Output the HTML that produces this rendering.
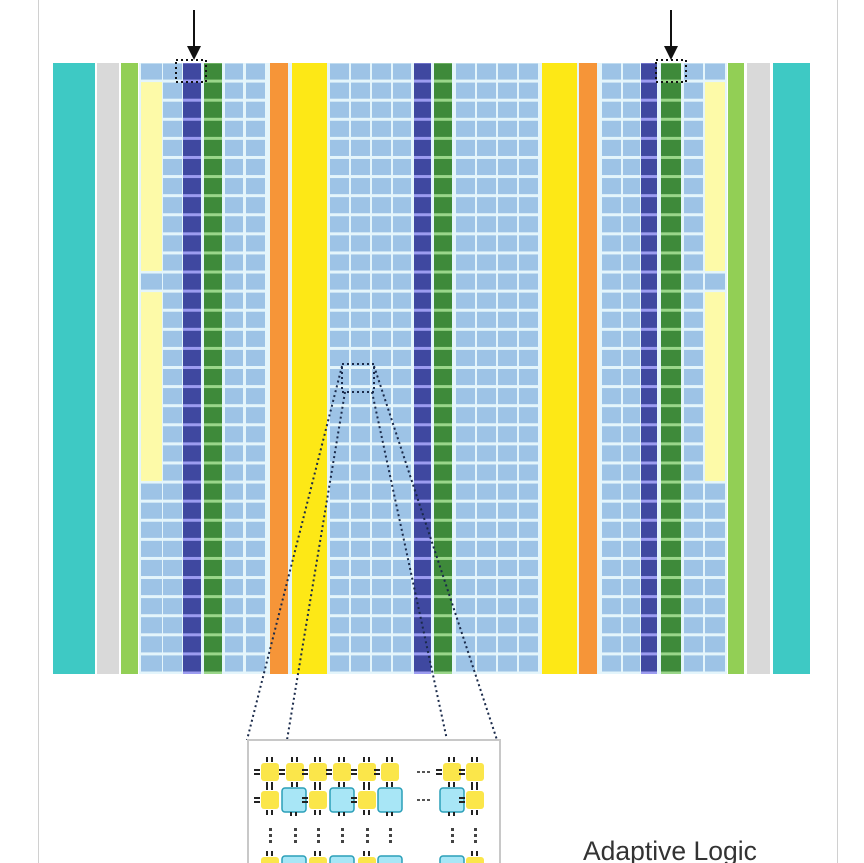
<!DOCTYPE html>
<html><head><meta charset="utf-8"><style>
html,body{margin:0;padding:0;background:#fff;width:864px;height:863px;overflow:hidden}
svg{display:block}
</style></head><body>
<svg id="s" width="864" height="863" viewBox="0 0 864 863" xmlns="http://www.w3.org/2000/svg">
<rect x="0" y="0" width="864" height="863" fill="#fff"/>
<line x1="38.5" y1="0" x2="38.5" y2="863" stroke="#d0d0d0" stroke-width="1"/>
<line x1="837.5" y1="0" x2="837.5" y2="863" stroke="#d0d0d0" stroke-width="1"/>
<g id="grid"></g>
<line x1="194" y1="10" x2="194" y2="50" stroke="#111" stroke-width="2"/>
<polygon points="187,46 201,46 194,60" fill="#111"/>
<line x1="671" y1="10" x2="671" y2="50" stroke="#111" stroke-width="2"/>
<polygon points="664,46 678,46 671,60" fill="#111"/>
<rect x="176" y="60" width="30" height="22" fill="none" stroke="#111" stroke-width="2" stroke-dasharray="2,3"/>
<rect x="656" y="60" width="30" height="22" fill="none" stroke="#111" stroke-width="2" stroke-dasharray="2,3"/>
<rect x="342" y="364" width="32" height="28" fill="none" stroke="#1a2a4a" stroke-width="2" stroke-dasharray="2,3"/>
<g stroke="#1a2a4a" stroke-width="2" stroke-dasharray="2,3" fill="none">
<line x1="342" y1="366" x2="247" y2="740"/>
<line x1="345" y1="392" x2="287" y2="740"/>
<line x1="372" y1="392" x2="447" y2="740"/>
<line x1="374" y1="366" x2="497" y2="740"/>
</g>
<rect x="248" y="740" width="252" height="130" fill="#fff" stroke="#c8c8c8" stroke-width="2"/>
<g id="inset"></g>
<text x="583" y="860" font-family="Liberation Sans, sans-serif" font-size="26.5" fill="#333">Adaptive Logic</text>
</svg>
<script>
var NS="http://www.w3.org/2000/svg";
function R(g,x,y,w,h,f){var r=document.createElementNS(NS,"rect");r.setAttribute("x",x);r.setAttribute("y",y);r.setAttribute("width",w);r.setAttribute("height",h);r.setAttribute("fill",f);g.appendChild(r);return r;}
var g=document.getElementById("grid");
var T=63,B=674,N=32,P=(B-T)/N;
R(g,139,T,588,B-T,"#e4f5fb");
R(g,53,T,42,B-T,"#3ec9c4");
R(g,97,T,22,B-T,"#d9d9d9");
R(g,121,T,17,B-T,"#92cf55");
R(g,728,T,16,B-T,"#92cf55");
R(g,747,T,23,B-T,"#d9d9d9");
R(g,773,T,37,B-T,"#3ec9c4");
var cols=[[141,21,"p"],[163,19,"c"],[183,18,"d"],[204,18,"g"],[225,18,"c"],[246,19,"c"],
[270,18,"o"],[292,35,"y"],[330,19,"c"],[351,19,"c"],[372,19,"c"],[393,18,"c"],
[414,17,"d"],[434,18,"g"],[456,19,"c"],[477,19,"c"],[498,19,"c"],[519,19,"c"],
[542,35,"y"],[579,18,"o"],[602,19,"c"],[623,17,"c"],[641,16,"d"],[661,20,"g"],[684,19,"c"],[705,20,"p"]];
cols.forEach(function(c){
 var x=c[0],w=c[1],t=c[2];
 if(t=="o"){R(g,x,T,w,B-T,"#f69538");return;}
 if(t=="y"){R(g,x,T,w,B-T,"#fde816");return;}
 if(t=="d"){R(g,x,T,w,B-T,"#9c9cf0");}
 if(t=="g"){R(g,x,T,w,B-T,"#9ad68a");}
 for(var i=0;i<N;i++){
  var y=T+i*P;
  var col=t=="d"?"#3f48a0":t=="g"?"#3e8a3a":"#9dc3e6";
  if(t=="p"&&((i>=1&&i<=10)||(i>=12&&i<=21)))continue;
  R(g,x,y+0.5,w,P-3,col);
 }
 if(t=="p"){R(g,x,T+P,w,10*P-2,"#fdfaa8");R(g,x,T+12*P,w,10*P-2,"#fdfaa8");}
});
var ins=document.getElementById("inset");
function pins(x,y,s){
 var h=s/2;
 R(ins,x-4,y-h-6,2,5,"#222");R(ins,x+1,y-h-6,2,5,"#222");
 R(ins,x-4,y+h+1,2,5,"#222");R(ins,x+1,y+h+1,2,5,"#222");
 R(ins,x-h-7,y-3,6,2,"#222");R(ins,x-h-7,y+1,6,2,"#222");
}
function yel(x,y){pins(x,y,18);var r=R(ins,x-9,y-9,18,18,"#fbe64a");r.setAttribute("rx",3);}
function cy(x,y){var r=R(ins,x-12,y-12,24,24,"#a8e6f6");r.setAttribute("rx",3);r.setAttribute("stroke","#2a9fb8");r.setAttribute("stroke-width","1.5");R(ins,x-4,y+12,2,4,"#222");R(ins,x+1,y+12,2,4,"#222");}
var xs=[270,295,318,342,367,390,452,475];
xs.forEach(function(x){yel(x,772);});
[[270,"y"],[294,"c"],[318,"y"],[342,"c"],[367,"y"],[390,"c"],[452,"c"],[475,"y"]].forEach(function(a){if(a[1]=="y")yel(a[0],800);else cy(a[0],800);});
xs.forEach(function(x){for(var k=0;k<3;k++)R(ins,x-1,828+k*6,3,3,"#444");});
[[270,"y"],[294,"c"],[318,"y"],[342,"c"],[367,"y"],[390,"c"],[452,"c"],[475,"y"]].forEach(function(a){if(a[1]=="y")yel(a[0],866);else cy(a[0],868);});
[772,800].forEach(function(y){for(var k=0;k<3;k++)R(ins,417+k*5,y-1,3,2,"#555");});
</script>
</body></html>
